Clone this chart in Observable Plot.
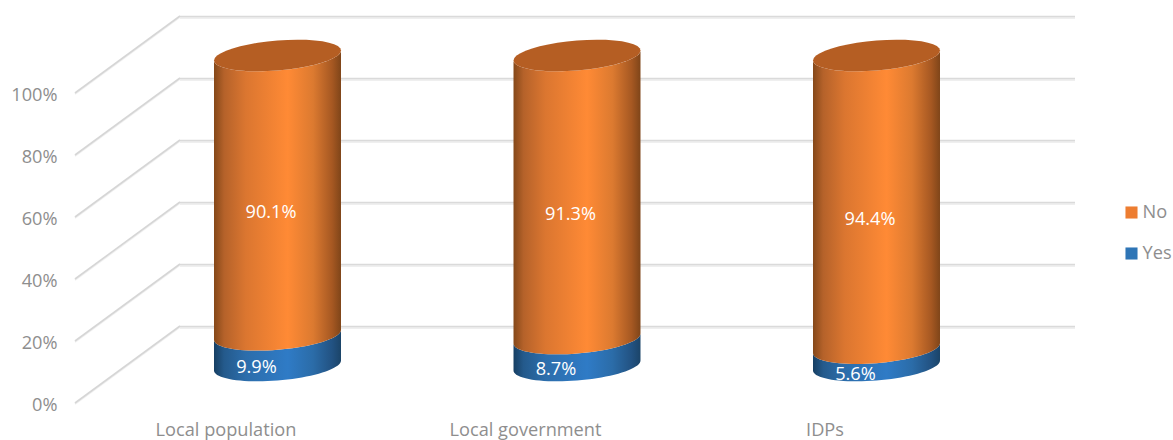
<!DOCTYPE html>
<html>
<head>
<meta charset="utf-8">
<script src="https://cdn.jsdelivr.net/npm/d3@7"></script>
<script src="https://cdn.jsdelivr.net/npm/@observablehq/plot@0.6"></script>
<style>
  html, body { margin: 0; padding: 0; background: #fff; }
  svg { display: block; }
</style>
</head>
<body>
<div id="chart"></div>
<script>
// Share of answers per respondent group, in percent
const groups = ["Local population", "Local government", "IDPs"];
const yesShare = [9.9, 8.7, 5.6];
const noShare = [90.1, 91.3, 94.4];
const percentTicks = [0, 20, 40, 60, 80, 100];
const seriesNames = ["No", "Yes"];
const seriesColors = ["#ed7d31", "#2e75b6"];

// Yes comes first so that it stacks at the foot of each column
const rows = [
  ...groups.map((group, i) => ({group, series: "Yes", value: yesShare[i]})),
  ...groups.map((group, i) => ({group, series: "No", value: noShare[i]}))
];

// Oblique projection: how far the floor recedes, and where the columns stand in it
const depthX = 105, depthY = -77;
const wallLeft = 75, wallRight = 1075;
const columnLift = -37.5;
const labelLift = -20.5;
const marginLeft = 60;
const grey = "#8e8e8e";
const fontFamily = "'Open Sans', sans-serif";
const fontSize = 18.2;

// Part of a tilted ellipse around (cx, cy), from angle a0 to a1
const ring = (cx, cy, rx, a0, a1) =>
  d3.range(41).map((k) => {
    const a = a0 + (a1 - a0) * k / 40;
    return [cx + rx * Math.cos(a), cy - 5 * Math.cos(a) + 15 * Math.sin(a)];
  });

// Draws each stacked bar as a shaded cylinder segment
function cylinder(index, scales, values) {
  const g = d3.create("svg:g");
  const defs = g.append("defs");
  const shades = {
    No: [[0, "#854819"], [0.08, "#b5622a"], [0.25, "#db7630"], [0.58, "#ff8a35"], [0.78, "#dc7a30"], [0.93, "#a65822"], [1, "#7f4519"]],
    Yes: [[0, "#173f63"], [0.08, "#245a8c"], [0.25, "#2c6dab"], [0.58, "#2f7bc6"], [0.78, "#2b6ca8"], [0.93, "#225282"], [1, "#1b4468"]]
  };
  for (const [name, stops] of Object.entries(shades)) {
    const lg = defs.append("linearGradient").attr("id", `shade-${name}`);
    for (const [o, c] of stops) lg.append("stop").attr("offset", o).attr("stop-color", c);
  }
  const line = d3.line();
  const rx = scales.x.bandwidth() / 2;
  for (const i of index) {
    const row = rows[i];
    const cx = values.x[i] + rx;
    const top = values.y2[i] + columnLift;
    const bottom = values.y1[i] + columnLift;
    const upper = ring(cx, top, rx, Math.PI, 0);
    const lower = ring(cx, bottom, rx, 0, Math.PI);
    g.append("path")
      .attr("d", line([...upper, ...lower]) + "Z")
      .attr("fill", `url(#shade-${row.series})`);
    if (row.series === "No") {
      g.append("path")
        .attr("d", line(ring(cx, top, rx, 0, 2 * Math.PI)) + "Z")
        .attr("fill", "#b55e23");
    }
  }
  return g.node();
}

// Floor-to-back-wall edges leading from each front tick to its gridline
function sideWall(index, scales, values) {
  const g = d3.create("svg:g");
  for (const i of index) {
    for (const [offset, stroke, width] of [[1.2, "#f0f0f0", 1.6], [0, "#d6d6d6", 1.6]]) {
      g.append("line")
        .attr("x1", wallLeft).attr("y1", values.y[i] + offset)
        .attr("x2", wallLeft + depthX).attr("y2", values.y[i] + depthY + offset)
        .attr("stroke", stroke).attr("stroke-width", width);
    }
  }
  return g.node();
}

// One value label per stacked segment, nudged sideways by series
const valueLabels = (series, dx) =>
  Plot.text(rows, Plot.stackY({
    x: "group",
    y: "value",
    z: "series",
    text: (d) => (d.series === series ? `${d.value}%` : null),
    dx,
    dy: labelLift,
    fill: "#fff",
    fontSize
  }));

// Legend entry: a colour swatch with its series name beside it
const legendEntry = (series, top) => [
  Plot.dot([series], {
    frameAnchor: "top-left",
    dx: 1131 - marginLeft,
    dy: top,
    symbol: "square",
    r: 6.8,
    fill: (d) => d
  }),
  Plot.text([series], {
    frameAnchor: "top-left",
    dx: 1142 - marginLeft,
    dy: top,
    text: (d) => d,
    textAnchor: "start",
    lineAnchor: "middle",
    fill: grey,
    fontSize
  })
];

const wallInset = {insetLeft: wallLeft + depthX - marginLeft, insetRight: 1173 - wallRight};

const chart = Plot.plot({
  width: 1173,
  height: 440,
  marginLeft,
  marginRight: 0,
  marginTop: 0,
  marginBottom: 0,
  style: {background: "#fff", fontFamily, overflow: "hidden"},
  x: {type: "band", domain: groups, range: [127.75, 1026.25], paddingInner: 0.576, paddingOuter: 0.288, round: false},
  y: {domain: [0, 100], range: [403, 93]},
  color: {domain: seriesNames, range: seriesColors},
  marks: [
    // back wall gridlines, with a soft lower edge
    Plot.ruleY(percentTicks, {dy: depthY + 1.4, ...wallInset, stroke: "#efefef", strokeWidth: 2}),
    Plot.ruleY(percentTicks, {dy: depthY, ...wallInset, stroke: "#dadada", strokeWidth: 1.6}),
    Plot.ruleY(percentTicks, {render: sideWall}),
    Plot.axisY({
      ticks: percentTicks,
      tickSize: 0,
      tickPadding: 3,
      tickFormat: (d) => `${d}%`,
      label: null,
      fontSize,
      dy: 2,
      color: grey
    }),
    Plot.axisX({
      tickSize: 0,
      label: null,
      dx: -52,
      dy: -26,
      fontSize,
      color: grey
    }),
    Plot.barY(rows, {x: "group", y: "value", fill: "series", render: cylinder}),
    valueLabels("No", -7),
    valueLabels("Yes", -21.5),
    ...legendEntry("No", 212),
    ...legendEntry("Yes", 253)
  ]
});
document.getElementById("chart").append(chart);
</script>
</body>
</html>
